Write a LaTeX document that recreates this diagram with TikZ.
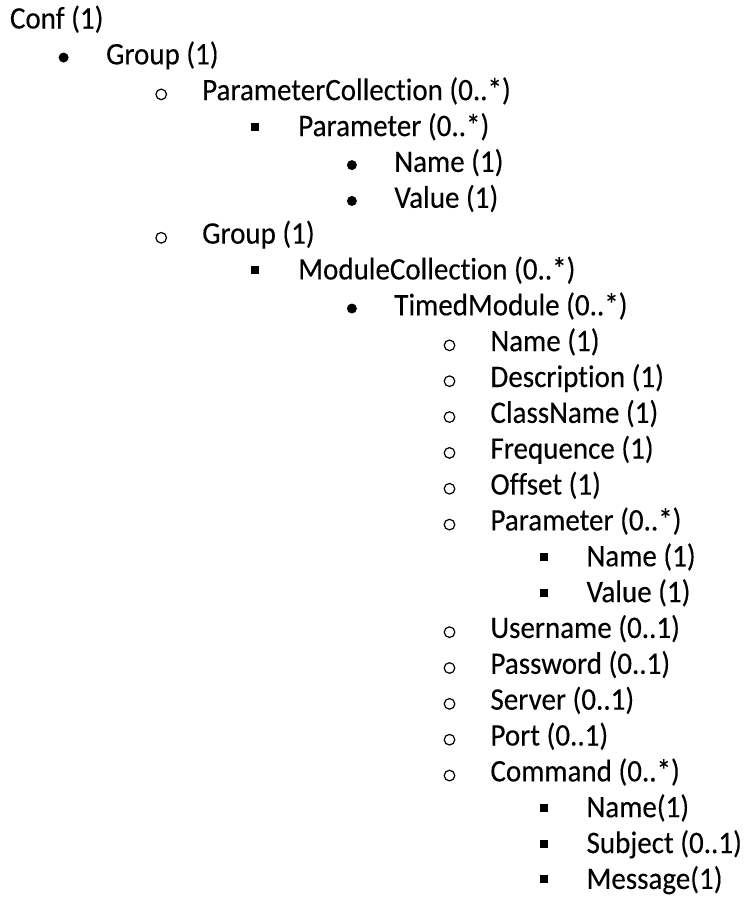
\documentclass[tikz,border=0pt]{standalone}
\usepackage{fontspec}
\setmainfont{Carlito}
\newfontfamily\listfont{Carlito}[FakeBold=0.2, Ligatures=NoCommon]
\newcommand\tallsetting[1]{\scalebox{1}[1.08]{#1}}
\begin{document}
\begin{tikzpicture}[x=1pt,y=1pt,
  itemtext/.style={anchor=base west, inner sep=0pt, outer sep=0pt,
    font=\fontsize{29}{35}\listfont, text=black},
  disc/.style={circle, fill=black, inner sep=0pt, minimum size=10pt,
    xshift=-42.5pt, yshift=6.8pt},
  ring/.style={circle, draw=black, line width=1.2pt, inner sep=0pt,
    minimum size=10.6pt, xshift=-41pt, yshift=5.8pt},
  sq/.style={rectangle, fill=black, inner sep=0pt, minimum size=8pt,
    xshift=-43pt, yshift=9.5pt}]
\useasboundingbox (0,0) rectangle (746,-897);
\fill[white] (0,0) rectangle (746,-897);

% top-level entry
\node[itemtext] (t0) at (10,-28.5) {\tallsetting{Conf (1)}};

% nested entries: row / indent level / bullet style / text
\foreach \i/\lv/\bs/\txt in {
  1/1/disc/{Group (1)},
  2/2/ring/{ParameterCollection (0..*)},
  3/3/sq/{Parameter (0..*)},
  4/4/disc/{Name (1)},
  5/4/disc/{Value (1)},
  6/2/ring/{Group (1)},
  7/3/sq/{ModuleCollection (0..*)},
  8/4/disc/{TimedModule (0..*)},
  9/5/ring/{Name (1)},
  10/5/ring/{Description (1)},
  11/5/ring/{ClassName (1)},
  12/5/ring/{Frequence (1)},
  13/5/ring/{Offset (1)},
  14/5/ring/{Parameter (0..*)},
  15/6/sq/{Name (1)},
  16/6/sq/{Value (1)},
  17/5/ring/{Username (0..1)},
  18/5/ring/{Password (0..1)},
  19/5/ring/{Server (0..1)},
  20/5/ring/{Port (0..1)},
  21/5/ring/{Command (0..*)},
  22/6/sq/{Name(1)},
  23/6/sq/{Subject (0..1)},
  24/6/sq/{Message(1)}}
{
  \node[itemtext] (t\i) at ({10+96.1*\lv}, {-28.5-35.85*\i}) {\tallsetting{\txt}};
  \node[\bs] (b\i) at (t\i.base west) {};
}
\end{tikzpicture}
\end{document}
